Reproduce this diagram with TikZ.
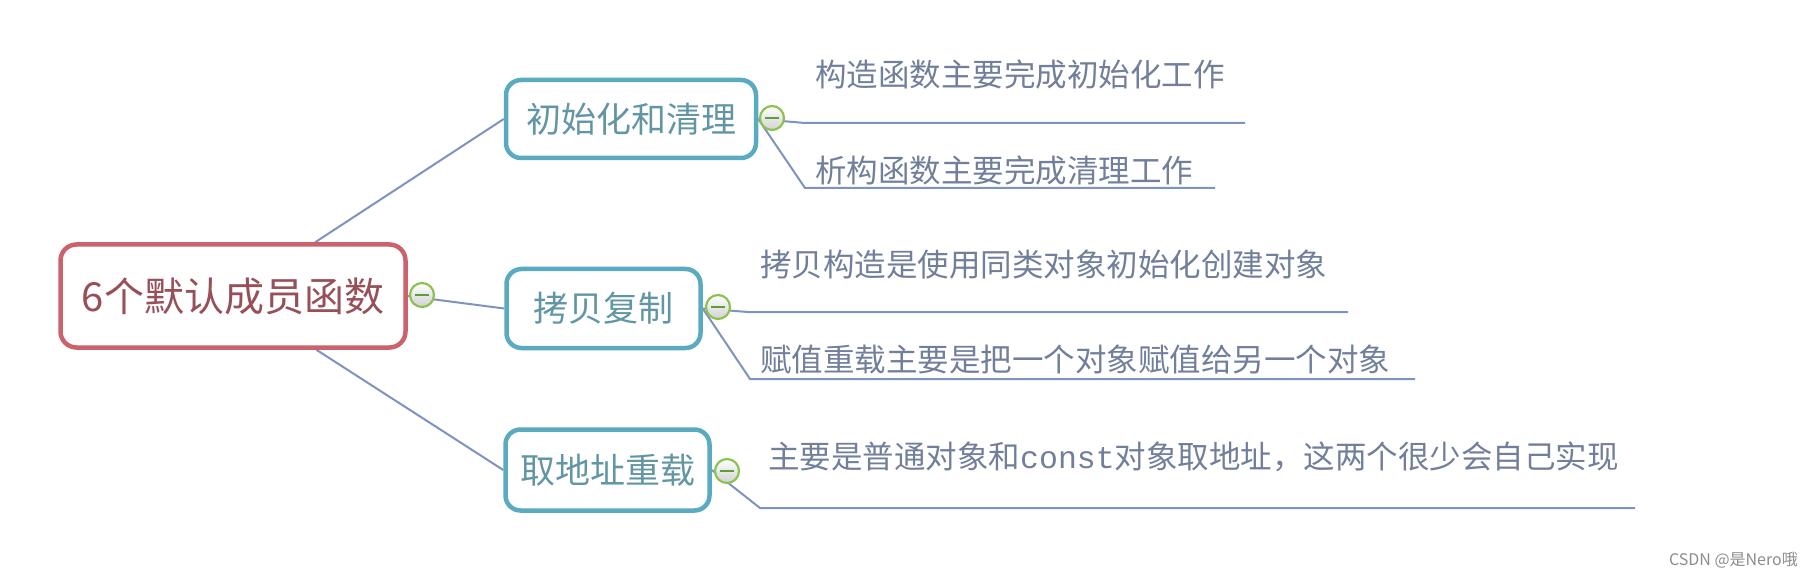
\documentclass[tikz,border=0pt]{standalone}
\usepackage{fontspec}
\setmainfont{Noto Sans CJK SC}
\newfontfamily\monof{Liberation Mono}
\usetikzlibrary{calc,backgrounds}
\definecolor{rootred}{HTML}{CC626C}
\definecolor{roottext}{HTML}{975058}
\definecolor{tealb}{HTML}{5AABC0}
\definecolor{tealtext}{HTML}{6296A4}
\definecolor{linkc}{HTML}{7D93C0}
\definecolor{leaftext}{HTML}{717F9A}
\definecolor{mgreen}{HTML}{8CC350}
\definecolor{mbar}{HTML}{5E9E3A}
\tikzset{
  rootbox/.style={draw=rootred, line width=4.5pt, rounded corners=16pt, fill=white,
    minimum width=345pt, minimum height=103pt, inner sep=0pt,
    text=roottext, font=\fontsize{40}{44}\selectfont},
  topicbox/.style={draw=tealb, line width=4.5pt, rounded corners=15pt, fill=white,
    inner sep=0pt, text=tealtext, font=\fontsize{35}{40}\selectfont},
  leaf/.style={anchor=west, inner sep=0pt, text=leaftext, font=\fontsize{31.5}{36}\selectfont},
  link/.style={draw=linkc, line width=2pt},
  minus/.style={circle, draw=mgreen, line width=2.2pt, minimum size=24pt, inner sep=0pt,
    top color=white, bottom color=black!18,
    path picture={\draw[mbar, line width=2.8pt]
      ([xshift=5pt]path picture bounding box.west) -- ([xshift=-5pt]path picture bounding box.east);}},
  wmark/.style={inner sep=0pt, text=black!45, font=\fontsize{16}{19}\selectfont}
}
\begin{document}
\begin{tikzpicture}[x=1pt, y=-1pt]
\useasboundingbox (0,0) rectangle (1814,577);
% boxes
\node[rootbox] (root) at (233,296) {6个默认成员函数};
\node[topicbox, minimum width=250pt, minimum height=78pt] (n1) at (631,119) {初始化和清理};
\node[topicbox, minimum width=194pt, minimum height=79pt] (n2) at (603.5,308.5) {拷贝复制};
\node[topicbox, minimum width=204pt, minimum height=81pt] (n3) at (607.5,470) {取地址重载};
% leaf texts
\node[leaf] (t1a) at (815,74.5) {构造函数主要完成初始化工作};
\node[leaf] (t1b) at (815,170.5) {析构函数主要完成清理工作};
\node[leaf] (t2a) at (760,265) {拷贝构造是使用同类对象初始化创建对象};
\node[leaf] (t2b) at (760,359.5) {赋值重载主要是把一个对象赋值给另一个对象};
\node[leaf] (t3) at (768,457) {主要是普通对象和{\monof const}对象取地址，这两个很少会自己实现};
% bend and end points of the leaf lines
\coordinate (b1a) at (805,123); \coordinate (e1a) at (1245,123);
\coordinate (b1b) at (805,188); \coordinate (e1b) at (1215,188);
\coordinate (b2a) at (748,312); \coordinate (e2a) at (1348,312);
\coordinate (b2b) at (750,379); \coordinate (e2b) at (1415,379);
\coordinate (b3) at (760,508); \coordinate (e3) at (1635,508);
% connectors, behind the boxes
\begin{scope}[on background layer]
\draw[link] (root) -- (n1.west);
\draw[link] (root) -- (n3.west);
\draw[link] (root.east) -- (n2.west);
\draw[link] (n1.east) -- (b1a) -- (e1a);
\draw[link] (n1.east) -- (b1b) -- (e1b);
\draw[link] (n2.east) -- (b2a) -- (e2a);
\draw[link] (n2.east) -- (b2b) -- (e2b);
\draw[link] (n3.east) -- (b3) -- (e3);
\end{scope}
% collapse markers
\node[minus] (c0) at (422,295) {};
\node[minus] (c1) at (772,118) {};
\node[minus] (c2) at (718,307) {};
\node[minus] (c3) at (727,471) {};
% watermark
\node[wmark, anchor=east] (wm) at (1798,560) {CSDN @是Nero哦};
\end{tikzpicture}
\end{document}
